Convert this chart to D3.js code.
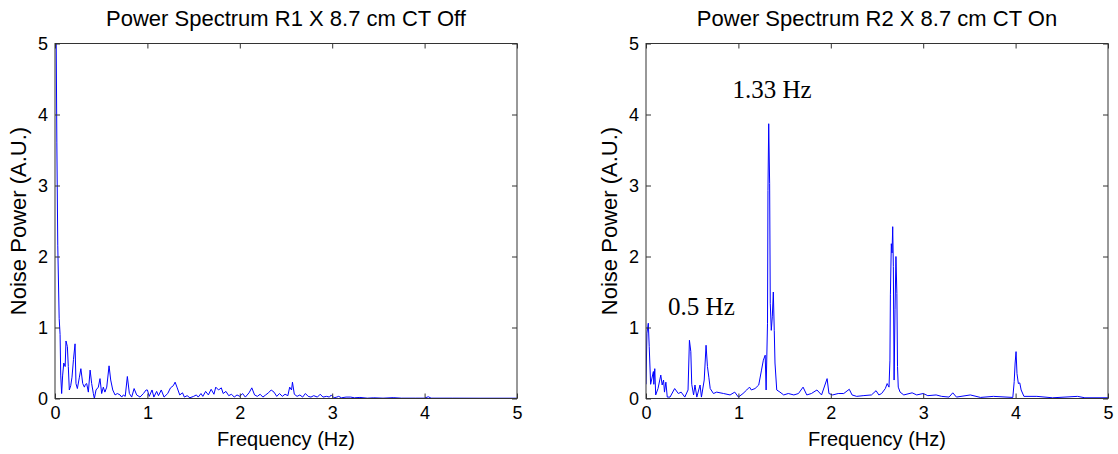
<!DOCTYPE html>
<html><head><meta charset="utf-8">
<script src="https://cdn.jsdelivr.net/npm/d3@7"></script>
<style>body{margin:0;background:#fff}svg{display:block}</style>
</head><body>
<svg id="chart" width="1118" height="454"></svg>
<script>
// ---- data ----
const xTicks = [0, 1, 2, 3, 4, 5];
const yTicks = [0, 1, 2, 3, 4, 5];
const titles = ["Power Spectrum R1 X 8.7 cm CT Off", "Power Spectrum R2 X 8.7 cm CT On"];
const xLabel = "Frequency (Hz)";
const yLabel = "Noise Power (A.U.)";
// [frequency Hz, power A.U.]
const r1Spectrum = [[0,5.6],[0.01,5.6],[0.02,3.6],[0.03,2.15],[0.045,1.13],[0.055,0.9],[0.062,0.33],[0.072,0.07],[0.083,0.33],[0.095,0.5],[0.11,0.45],[0.119,0.81],[0.134,0.73],[0.144,0.45],[0.155,0.12],[0.17,0.18],[0.184,0.3],[0.2,0.55],[0.217,0.77],[0.227,0.21],[0.242,0.14],[0.264,0.3],[0.28,0.42],[0.3,0.21],[0.318,0.16],[0.33,0.2],[0.343,0.21],[0.361,0.09],[0.38,0.4],[0.397,0.21],[0.415,0.07],[0.426,0],[0.444,0.12],[0.469,0.16],[0.487,0.28],[0.505,0.07],[0.523,0.16],[0.54,0.09],[0.56,0.16],[0.585,0.46],[0.603,0.26],[0.625,0.12],[0.65,0.05],[0.675,0.07],[0.704,0.05],[0.722,0.02],[0.74,0.05],[0.76,0.03],[0.783,0.31],[0.805,0.07],[0.83,0.02],[0.856,0.14],[0.884,0.05],[0.92,0.02],[0.957,0.07],[0.986,0.12],[1.0,0.12],[1.02,0.03],[1.05,0.12],[1.07,0.02],[1.1,0.1],[1.12,0.04],[1.15,0.12],[1.18,0.02],[1.22,0.07],[1.25,0.15],[1.28,0.18],[1.3,0.23],[1.32,0.16],[1.35,0.05],[1.38,0.08],[1.4,0.02],[1.43,0.04],[1.46,0.01],[1.5,0.03],[1.53,0.05],[1.55,0.02],[1.58,0.07],[1.6,0.03],[1.63,0.1],[1.66,0.05],[1.69,0.13],[1.72,0.06],[1.74,0.16],[1.77,0.12],[1.8,0.15],[1.82,0.07],[1.85,0.1],[1.88,0.04],[1.91,0.06],[1.94,0.02],[1.97,0.05],[2.0,0.03],[2.03,0.07],[2.06,0.02],[2.1,0.08],[2.13,0.15],[2.16,0.05],[2.19,0.03],[2.22,0.06],[2.25,0.02],[2.28,0.05],[2.31,0.08],[2.34,0.12],[2.37,0.09],[2.4,0.03],[2.43,0.07],[2.46,0.03],[2.49,0.06],[2.52,0.04],[2.54,0.16],[2.56,0.12],[2.57,0.23],[2.59,0.06],[2.62,0.03],[2.65,0.05],[2.68,0.02],[2.71,0.07],[2.74,0.03],[2.77,0.02],[2.8,0.04],[2.84,0.02],[2.87,0.06],[2.9,0.02],[2.94,0.03],[2.97,0.02],[2.99,0.05],[3.02,0.01],[3.05,0.02],[3.07,0.03],[3.1,0.01],[3.15,0.02],[3.2,0.02],[3.24,0.01],[3.3,0.015],[3.38,0.005],[3.45,0.01],[3.55,0.005],[3.66,0.012],[3.75,0.005],[3.9,0.005],[4.0,0.005],[4.04,0.025],[4.07,0.005],[4.3,0.005],[4.6,0.004],[5.0,0.004]];
const r2Spectrum = [[0,0.2],[0.01,0.92],[0.025,1.06],[0.035,0.73],[0.05,0.2],[0.08,0.38],[0.085,0.2],[0.095,0.42],[0.105,0.05],[0.13,0.14],[0.16,0.33],[0.175,0.19],[0.19,0.26],[0.2,0.09],[0.215,0.23],[0.23,0.02],[0.26,0.02],[0.31,0.14],[0.35,0.07],[0.38,0.09],[0.42,0.02],[0.455,0.12],[0.47,0.82],[0.485,0.66],[0.495,0.2],[0.515,0.05],[0.53,0.19],[0.55,0.02],[0.585,0.19],[0.6,0.02],[0.63,0.26],[0.65,0.75],[0.665,0.45],[0.68,0.3],[0.695,0.14],[0.73,0.07],[0.765,0.09],[0.84,0.07],[0.91,0.05],[0.96,0.09],[1.0,0.02],[1.05,0.07],[1.09,0.12],[1.12,0.16],[1.14,0.12],[1.18,0.14],[1.22,0.19],[1.25,0.4],[1.27,0.54],[1.29,0.61],[1.3,0.12],[1.315,1.06],[1.32,2.93],[1.328,3.87],[1.338,3.03],[1.345,1.34],[1.356,0.96],[1.367,1.15],[1.378,1.5],[1.388,0.96],[1.396,0.5],[1.415,0.12],[1.45,0.09],[1.49,0.05],[1.54,0.07],[1.6,0.05],[1.65,0.07],[1.7,0.16],[1.74,0.05],[1.79,0.07],[1.85,0.12],[1.9,0.05],[1.96,0.28],[1.98,0.07],[2.02,0.05],[2.08,0.07],[2.14,0.07],[2.2,0.13],[2.23,0.05],[2.28,0.03],[2.35,0.04],[2.44,0.05],[2.49,0.11],[2.52,0.05],[2.55,0.07],[2.59,0.14],[2.61,0.21],[2.63,0.16],[2.64,0.54],[2.645,1.46],[2.655,2.18],[2.663,2.05],[2.67,2.42],[2.677,1.86],[2.685,0.26],[2.695,1.25],[2.705,2.0],[2.715,1.48],[2.722,0.45],[2.73,0.16],[2.75,0.09],[2.79,0.05],[2.88,0.08],[2.93,0.05],[3.0,0.07],[3.05,0.04],[3.14,0.05],[3.2,0.03],[3.28,0.02],[3.32,0.08],[3.36,0.02],[3.51,0.05],[3.62,0.015],[3.76,0.03],[3.97,0.015],[3.985,0.24],[3.995,0.5],[4.005,0.66],[4.015,0.35],[4.03,0.21],[4.045,0.22],[4.06,0.12],[4.09,0.03],[4.23,0.03],[4.4,0.01],[4.67,0.03],[4.75,0.01],[5.0,0.01]];
const annotations = [[], [{f: 1.364, v: 4.23, text: "1.33 Hz"}, {f: 0.6, v: 1.18, text: "0.5 Hz"}]];
// ---- layout ----
const panels = [
  {left: 55, right: 517, data: r1Spectrum},
  {left: 646, right: 1108, data: r2Spectrum}
];
const plotTop = 43.5, plotBottom = 398.5;
const svg = d3.select("#chart");
const sans = "'Liberation Sans', Arial, sans-serif";
const frameColor = "#333";

panels.forEach((p, i) => {
  const x = d3.scaleLinear().domain([0, 5]).range([p.left, p.right]);
  const y = d3.scaleLinear().domain([0, 5]).range([plotBottom, plotTop]);
  const g = svg.append("g");
  const clipId = "clip" + i;
  g.append("clipPath").attr("id", clipId).append("rect")
    .attr("x", p.left).attr("y", plotTop).attr("width", p.right - p.left).attr("height", plotBottom - plotTop);

  g.append("path").datum(p.data)
    .attr("clip-path", `url(#${clipId})`)
    .attr("fill", "none").attr("stroke", "#0000ff").attr("stroke-width", 1)
    .attr("d", d3.line().x(d => x(d[0])).y(d => y(d[1])));

  const styleAxis = sel => {
    sel.select(".domain").remove();
    sel.selectAll(".tick line").attr("stroke", frameColor);
    sel.selectAll(".tick text").attr("font-family", sans).attr("font-size", 18).attr("fill", "#000");
  };
  g.append("g").attr("transform", `translate(0,${plotBottom})`)
    .call(d3.axisBottom(x).tickValues(xTicks).tickFormat(d3.format("d")).tickSize(-5).tickPadding(8)).call(styleAxis);
  g.append("g").attr("transform", `translate(0,${plotTop})`)
    .call(d3.axisTop(x).tickValues(xTicks).tickFormat("").tickSize(-5)).call(styleAxis);
  g.append("g").attr("transform", `translate(${p.left},0)`)
    .call(d3.axisLeft(y).tickValues(yTicks).tickFormat(d3.format("d")).tickSize(-5).tickPadding(7)).call(styleAxis);
  g.append("g").attr("transform", `translate(${p.right},0)`)
    .call(d3.axisRight(y).tickValues(yTicks).tickFormat("").tickSize(-5)).call(styleAxis);

  g.append("rect").attr("x", p.left).attr("y", plotTop)
    .attr("width", p.right - p.left).attr("height", plotBottom - plotTop)
    .attr("fill", "none").attr("stroke", frameColor).attr("stroke-width", 1);

  const cx = (p.left + p.right) / 2;
  g.append("text").attr("x", cx).attr("y", 26).attr("text-anchor", "middle")
    .attr("font-family", sans).attr("font-size", 22).text(titles[i]);
  g.append("text").attr("x", cx).attr("y", 446).attr("text-anchor", "middle")
    .attr("font-family", sans).attr("font-size", 20).text(xLabel);
  g.append("text").attr("transform", `translate(${p.left - 29},${(plotTop + plotBottom) / 2}) rotate(-90)`)
    .attr("text-anchor", "middle")
    .attr("font-family", sans).attr("font-size", 22).text(yLabel);

  annotations[i].forEach(a => {
    g.append("text").attr("x", x(a.f)).attr("y", y(a.v)).attr("text-anchor", "middle")
      .attr("font-family", "'Liberation Serif', 'Times New Roman', serif").attr("font-size", 25)
      .text(a.text);
  });
});
</script>
</body></html>
